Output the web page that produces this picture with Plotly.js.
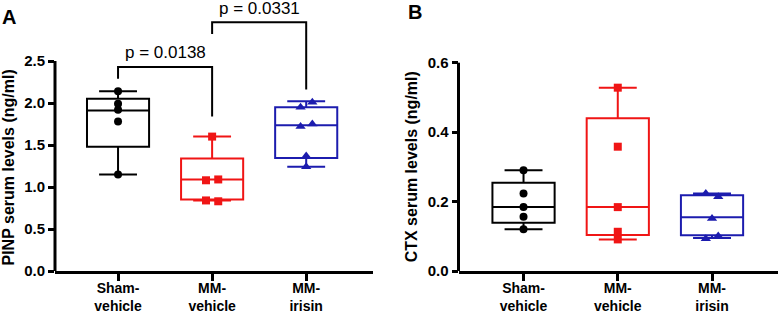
<!DOCTYPE html>
<html>
<head>
<meta charset="utf-8">
<script src="https://cdn.plot.ly/plotly-3.0.1.min.js"></script>
<style>html,body{margin:0;padding:0;background:#fff;}#chart{width:778px;height:314px;}</style>
</head>
<body>
<div id="chart"></div>
<script>
// ---------- data ----------
const categories = ["Sham-<br>vehicle", "MM-<br>vehicle", "MM-<br>irisin"];

// Panel A: PINP (ng/ml), individual points
const pinpSham   = [2.14, 1.99, 1.92, 1.78, 1.15];
const pinpMMVeh  = [1.60, 1.09, 1.08, 0.84, 0.83];
const pinpMMIri  = [2.01, 1.95, 1.75, 1.72, 1.37, 1.24];
// horizontal jitter of the points (category units)
const pinpShamJit  = [0, 0, 0, 0, 0];
const pinpMMVehJit = [0, 0.065, -0.065, -0.065, 0.065];
const pinpMMIriJit = [0.065, -0.06, 0.065, -0.06, 0, 0];
// box statistics: [lower whisker, q1, median, q3, upper whisker]
const pinpBoxSham  = [1.15, 1.48, 1.91, 2.05, 2.14];
const pinpBoxMMVeh = [0.84, 0.85, 1.09, 1.34, 1.60];
const pinpBoxMMIri = [1.24, 1.345, 1.735, 1.95, 2.02];

// Panel B: CTX (ng/ml)
const ctxSham  = [0.290, 0.223, 0.184, 0.156, 0.120];
const ctxMMVeh = [0.528, 0.358, 0.184, 0.113, 0.091];
const ctxMMIri = [0.223, 0.214, 0.151, 0.093, 0.101];
const ctxShamJit  = [0, 0, 0, 0, 0];
const ctxMMVehJit = [0, 0, 0, 0, 0];
const ctxMMIriJit = [-0.066, 0.066, 0, -0.066, 0.066];
const ctxBoxSham  = [0.120, 0.139, 0.184, 0.254, 0.290];
const ctxBoxMMVeh = [0.091, 0.104, 0.184, 0.440, 0.528];
const ctxBoxMMIri = [0.095, 0.103, 0.155, 0.218, 0.223];

// significance comparisons (panel A)
const compPairs   = [[0, 1], [1, 2]];
const compLabels  = ["p = 0.0138", "p = 0.0331"];
const compHeights = [2.43, 2.96];
const compLegEnds = [[2.29, 1.84], [2.82, 2.16]];

const pinpTicks = [0, 0.5, 1.0, 1.5, 2.0, 2.5];
const ctxTicks  = [0, 0.2, 0.4, 0.6];

// ---------- styles ----------
const FONT = "Arial, 'Liberation Sans', Helvetica, sans-serif";
const BLACK = "#000000", RED = "#f01515", BLUE = "#1c1cae";
const groupColors = [BLACK, RED, BLUE];
const groupSymbols = ["circle", "square", "triangle-up"];
const groupSizes = [8, 8, 9];

function boxTrace(stats, pos, color, xa, ya) {
  return {
    type: "box", x: [pos],
    lowerfence: [stats[0]], q1: [stats[1]], median: [stats[2]], q3: [stats[3]], upperfence: [stats[4]],
    boxpoints: false, width: 0.66, whiskerwidth: 0.61,
    line: {color: color, width: 2}, fillcolor: "rgba(0,0,0,0)",
    xaxis: xa, yaxis: ya, showlegend: false, hoverinfo: "skip"
  };
}
function pointTrace(vals, jit, gi, xa, ya) {
  return {
    type: "scatter", mode: "markers",
    x: vals.map((v, i) => gi + jit[i]), y: vals,
    marker: {symbol: groupSymbols[gi], size: groupSizes[gi], color: groupColors[gi], line: {width: 0}},
    xaxis: xa, yaxis: ya, showlegend: false, hoverinfo: "skip", cliponaxis: false
  };
}

const data = [
  boxTrace(pinpBoxSham, 0, BLACK, "x", "y"),
  boxTrace(pinpBoxMMVeh, 1, RED, "x", "y"),
  boxTrace(pinpBoxMMIri, 2, BLUE, "x", "y"),
  pointTrace(pinpSham, pinpShamJit, 0, "x", "y"),
  pointTrace(pinpMMVeh, pinpMMVehJit, 1, "x", "y"),
  pointTrace(pinpMMIri, pinpMMIriJit, 2, "x", "y"),
  boxTrace(ctxBoxSham, 0, BLACK, "x2", "y2"),
  boxTrace(ctxBoxMMVeh, 1, RED, "x2", "y2"),
  boxTrace(ctxBoxMMIri, 2, BLUE, "x2", "y2"),
  pointTrace(ctxSham, ctxShamJit, 0, "x2", "y2"),
  pointTrace(ctxMMVeh, ctxMMVehJit, 1, "x2", "y2"),
  pointTrace(ctxMMIri, ctxMMIriJit, 2, "x2", "y2")
];

const W = 778, H = 314;
const xTickFont = {family: FONT, size: 14, color: BLACK, weight: 700};
const yTickFont = {family: FONT, size: 15, color: BLACK, weight: 700};

function xAxis(domain, range) {
  return {
    domain: domain, range: range, type: "linear",
    tickvals: [0, 1, 2], ticktext: categories,
    showline: true, linecolor: BLACK, linewidth: 3,
    ticks: "outside", ticklen: 7, tickwidth: 3, tickcolor: BLACK,
    ticklabelstandoff: -5,
    showgrid: false, zeroline: false, tickfont: xTickFont, fixedrange: true
  };
}
function yAxis(range, ticks, anchor) {
  return {
    range: range, anchor: anchor,
    tickvals: ticks, ticktext: ticks.map(t => t.toFixed(1)),
    showline: false, ticks: "outside", ticklen: 6, tickwidth: 3, tickcolor: BLACK,
    showgrid: false, zeroline: false, tickfont: yTickFont, fixedrange: true
  };
}

const shapes = [
  {type: "line", xref: "x domain", yref: "y", x0: 0, x1: 0, y0: -0.02, y1: pinpTicks[pinpTicks.length - 1],
   line: {color: BLACK, width: 3}},
  {type: "line", xref: "x2 domain", yref: "y2", x0: 0, x1: 0, y0: -0.005, y1: ctxTicks[ctxTicks.length - 1],
   line: {color: BLACK, width: 3}}
];
const annotations = [];
compPairs.forEach((p, i) => {
  const h = compHeights[i];
  shapes.push({type: "path", xref: "x", yref: "y",
    path: `M ${p[0]},${compLegEnds[i][0]} L ${p[0]},${h} L ${p[1]},${h} L ${p[1]},${compLegEnds[i][1]}`,
    line: {color: BLACK, width: 2}});
  annotations.push({xref: "x", yref: "y", x: (p[0] + p[1]) / 2, y: h, text: compLabels[i],
    showarrow: false, yanchor: "middle", yshift: 14, font: {family: FONT, size: 17, color: BLACK}});
});
annotations.push(
  {xref: "paper", yref: "y", x: 7.5 / W, y: 1.25, yshift: -2, xanchor: "center", yanchor: "middle", textangle: -90,
   text: "PINP serum levels (ng/ml)", showarrow: false, font: {family: FONT, size: 16, color: BLACK, weight: 700}},
  {xref: "paper", yref: "y2", x: 411.5 / W, y: 0.3, xanchor: "center", yanchor: "middle", textangle: -90,
   text: "CTX serum levels (ng/ml)", showarrow: false, font: {family: FONT, size: 16, color: BLACK, weight: 700}},
  {xref: "paper", yref: "paper", x: 8.5 / W, y: 1, yanchor: "middle", xanchor: "center",
   text: "A", showarrow: false, font: {family: FONT, size: 20, color: BLACK, weight: 700}},
  {xref: "paper", yref: "paper", x: 415 / W, y: 1, yanchor: "middle", xanchor: "center",
   text: "B", showarrow: false, font: {family: FONT, size: 20, color: BLACK, weight: 700}}
);

const marginT = 10, marginB = 43;
const plotH = H - marginT - marginB;
// fix pixel/unit scale to match the reference
const pinpTop = plotH / 84;
const ctxTop = plotH / 347.2;
// letter positions in paper coords (plot area spans marginT..H-marginB)
annotations[annotations.length - 2].y = (H - marginB - 17) / plotH;
annotations[annotations.length - 1].y = (H - marginB - 12) / plotH;

const layout = {
  width: W, height: H,
  margin: {l: 0, r: 0, t: marginT, b: marginB, pad: 0},
  paper_bgcolor: "#ffffff", plot_bgcolor: "#ffffff",
  showlegend: false,
  xaxis: xAxis([55 / W, 373 / W], [-0.67, 2.71]),
  yaxis: yAxis([0, pinpTop], pinpTicks, "x"),
  xaxis2: xAxis([458.5 / W, 1], [-0.69, 2.70]),
  yaxis2: yAxis([0, ctxTop], ctxTicks, "x2"),
  shapes: shapes,
  annotations: annotations,
  font: {family: FONT, color: BLACK}
};

Plotly.newPlot("chart", data, layout, {displayModeBar: false, staticPlot: true});
</script>
</body>
</html>
